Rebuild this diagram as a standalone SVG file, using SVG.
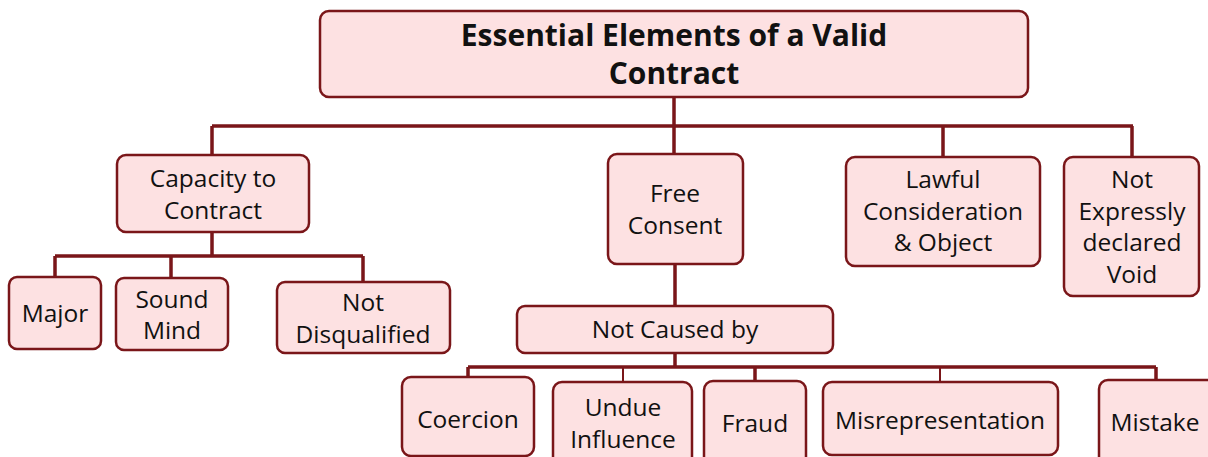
<svg xmlns="http://www.w3.org/2000/svg" width="1208" height="457" viewBox="0 0 1208 457">
<style>
.box{fill:#fde1e2;stroke:#7a1619;stroke-width:2.5}
.ln{fill:none;stroke:#7a1619;stroke-width:3.5}
.thin{fill:none;stroke:#7a1619;stroke-width:2}
text{font-family:"Open Sans","Noto Sans","DejaVu Sans",sans-serif;font-size:24.5px;fill:#111;text-anchor:middle}
.title{font-weight:bold;font-size:30px}
</style>
<rect width="1208" height="457" fill="#fff"/>
<g id="connectors">
<path class="ln" d="M674,97 V155 M212,126 H1133 M212,126 V155 M943,126 V157 M1132,126 V157"/>
<path class="ln" d="M212,232 V256 M55,256 H363 M55,256 V277 M171,256 V278 M363,256 V282"/>
<path class="ln" d="M675,264 V306 M675,353 V367 M468,367 H1156 M468,367 V377 M755,367 V381 M1156,367 V380"/>
<path class="thin" d="M623,367 V382 M940,367 V382"/>
</g>
<g id="n-title"><rect class="box" x="320" y="11" width="708" height="86" rx="9"/>
<text class="title" x="674" y="46">Essential Elements of a Valid</text><text class="title" x="674" y="84">Contract</text></g>
<g id="n-capacity"><rect class="box" x="117" y="155" width="192" height="77" rx="9"/>
<text x="213" y="187">Capacity to</text><text x="213" y="219">Contract</text></g>
<g id="n-free"><rect class="box" x="608" y="154" width="135" height="110" rx="9"/>
<text x="675" y="202">Free</text><text x="675" y="234">Consent</text></g>
<g id="n-lawful"><rect class="box" x="846" y="157" width="194" height="109" rx="9"/>
<text x="943" y="188">Lawful</text><text x="943" y="220">Consideration</text><text x="943" y="251">&amp; Object</text></g>
<g id="n-void"><rect class="box" x="1064" y="157" width="135" height="139" rx="9"/>
<text x="1132" y="188">Not</text><text x="1132" y="220">Expressly</text><text x="1132" y="251">declared</text><text x="1132" y="283">Void</text></g>
<g id="n-major"><rect class="box" x="9" y="277" width="92" height="72" rx="8"/>
<text x="55" y="322">Major</text></g>
<g id="n-sound"><rect class="box" x="116" y="278" width="112" height="72" rx="8"/>
<text x="172" y="308">Sound</text><text x="172" y="339">Mind</text></g>
<g id="n-notdis"><rect class="box" x="277" y="282" width="173" height="71" rx="8"/>
<text x="363" y="311">Not</text><text x="363" y="343">Disqualified</text></g>
<g id="n-notcaused"><rect class="box" x="517" y="306" width="316" height="47" rx="8"/>
<text x="675" y="338">Not Caused by</text></g>
<g id="n-coercion"><rect class="box" x="402" y="377" width="132" height="79" rx="9"/>
<text x="468" y="428">Coercion</text></g>
<g id="n-undue"><rect class="box" x="553" y="382" width="139" height="90" rx="9"/>
<text x="623" y="416">Undue</text><text x="623" y="448">Influence</text></g>
<g id="n-fraud"><rect class="box" x="704" y="381" width="102" height="90" rx="9"/>
<text x="755" y="432">Fraud</text></g>
<g id="n-misrep"><rect class="box" x="823" y="382" width="235" height="73" rx="9"/>
<text x="940" y="429">Misrepresentation</text></g>
<g id="n-mistake"><rect class="box" x="1099" y="380" width="120" height="90" rx="9"/>
<text x="1155" y="431">Mistake</text></g>
</svg>
